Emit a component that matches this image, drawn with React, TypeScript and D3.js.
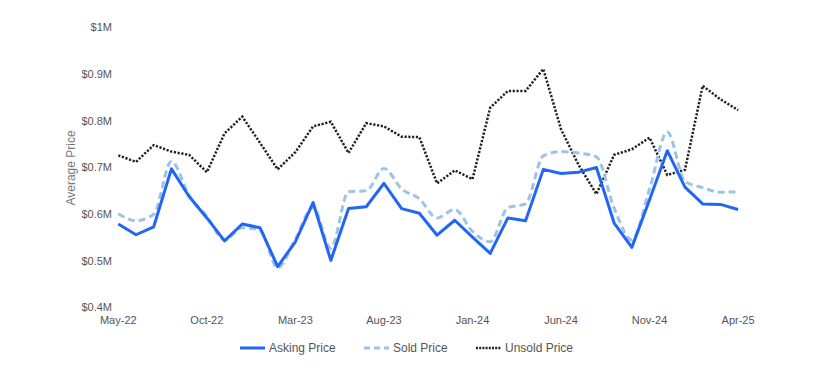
import React from "react";
import * as d3 from "d3";

const months = [
  "May-22","Jun-22","Jul-22","Aug-22","Sep-22","Oct-22","Nov-22","Dec-22","Jan-23","Feb-23","Mar-23","Apr-23",
  "May-23","Jun-23","Jul-23","Aug-23","Sep-23","Oct-23","Nov-23","Dec-23","Jan-24","Feb-24","Mar-24","Apr-24",
  "May-24","Jun-24","Jul-24","Aug-24","Sep-24","Oct-24","Nov-24","Dec-24","Jan-25","Feb-25","Mar-25","Apr-25",
];

const askingPrice = [
  0.579, 0.556, 0.573, 0.697, 0.638, 0.592, 0.543, 0.579, 0.571, 0.488, 0.541, 0.625,
  0.501, 0.612, 0.616, 0.666, 0.612, 0.602, 0.555, 0.587, 0.551, 0.516, 0.592, 0.586,
  0.696, 0.687, 0.690, 0.700, 0.581, 0.529, 0.631, 0.736, 0.658, 0.622, 0.621, 0.610,
];

const soldPrice = [
  0.601, 0.586, 0.600, 0.713, 0.640, 0.595, 0.545, 0.571, 0.566, 0.485, 0.547, 0.615,
  0.527, 0.648, 0.650, 0.698, 0.654, 0.633, 0.592, 0.610, 0.563, 0.541, 0.614, 0.622,
  0.725, 0.734, 0.731, 0.723, 0.613, 0.545, 0.654, 0.776, 0.670, 0.657, 0.647, 0.648,
];

const unsoldPrice = [
  0.726, 0.712, 0.748, 0.734, 0.727, 0.690, 0.773, 0.809, 0.753, 0.696, 0.733, 0.788,
  0.798, 0.731, 0.795, 0.788, 0.766, 0.765, 0.666, 0.694, 0.675, 0.828, 0.864, 0.864,
  0.911, 0.782, 0.705, 0.643, 0.727, 0.739, 0.764, 0.684, 0.695, 0.875, 0.846, 0.823,
];

const yTicks = [0.4, 0.5, 0.6, 0.7, 0.8, 0.9, 1.0];
const xTickLabels = ["May-22", "Oct-22", "Mar-23", "Aug-23", "Jan-24", "Jun-24", "Nov-24", "Apr-25"];

const seriesNames = ["Asking Price", "Sold Price", "Unsold Price"];

export default function App() {
  const W = 815;
  const H = 377;
  const x = d3.scalePoint<string>().domain(months).range([118.3, 738.1]);
  const y = d3.scaleLinear().domain([0.4, 1.0]).range([307.6, 27.4]);

  const linear = d3
    .line<number>()
    .x((_, i) => x(months[i]) as number)
    .y((d) => y(d))
    .curve(d3.curveLinear);
  const smooth = d3
    .line<number>()
    .x((_, i) => x(months[i]) as number)
    .y((d) => y(d))
    .curve(d3.curveMonotoneX);

  const fmt = (v: number) => (v >= 1 ? "$1M" : `$${d3.format(".1f")(v)}M`);
  const textColor = "#555";
  const font = "'Liberation Sans', Arial, sans-serif";

  const legend = [
    { name: seriesNames[0], x0: 240, stroke: "#2366f6", dash: "none", w: 3 },
    { name: seriesNames[1], x0: 364, stroke: "#9dc3e6", dash: "6,4", w: 3 },
    { name: seriesNames[2], x0: 476, stroke: "#222", dash: "2,1.2", w: 2.5 },
  ];

  return (
    <svg
      width={W}
      height={H}
      style={{ position: "absolute", left: 0, top: 0, background: "#fff" }}
      fontFamily={font}
    >
      {yTicks.map((t) => (
        <text
          key={t}
          x={112}
          y={y(t)}
          dy="0.35em"
          textAnchor="end"
          fontSize={11}
          fill={textColor}
        >
          {fmt(t)}
        </text>
      ))}
      <text
        transform={`translate(74.5,168) rotate(-90)`}
        textAnchor="middle"
        fontSize={12}
        fill="#777"
      >
        Average Price
      </text>
      {xTickLabels.map((m) => (
        <text
          key={m}
          x={x(m) as number}
          y={320.5}
          dy="0.35em"
          textAnchor="middle"
          fontSize={11}
          fill={textColor}
        >
          {m}
        </text>
      ))}

      <path
        d={linear(unsoldPrice) || ""}
        fill="none"
        stroke="#222"
        strokeWidth={2.5}
        strokeDasharray="2.2,1.6"
      />
      <path
        d={smooth(soldPrice) || ""}
        fill="none"
        stroke="#9dc3e6"
        strokeWidth={3}
        strokeDasharray="7,4"
      />
      <path
        d={linear(askingPrice) || ""}
        fill="none"
        stroke="#2366f6"
        strokeWidth={3}
        strokeLinejoin="round"
      />

      {legend.map((l) => (
        <g key={l.name}>
          <line
            x1={l.x0}
            x2={l.x0 + 25}
            y1={348}
            y2={348}
            stroke={l.stroke}
            strokeWidth={l.w}
            strokeDasharray={l.dash}
          />
          <text x={l.x0 + 29} y={348} dy="0.35em" fontSize={12} fill={textColor}>
            {l.name}
          </text>
        </g>
      ))}
    </svg>
  );
}
